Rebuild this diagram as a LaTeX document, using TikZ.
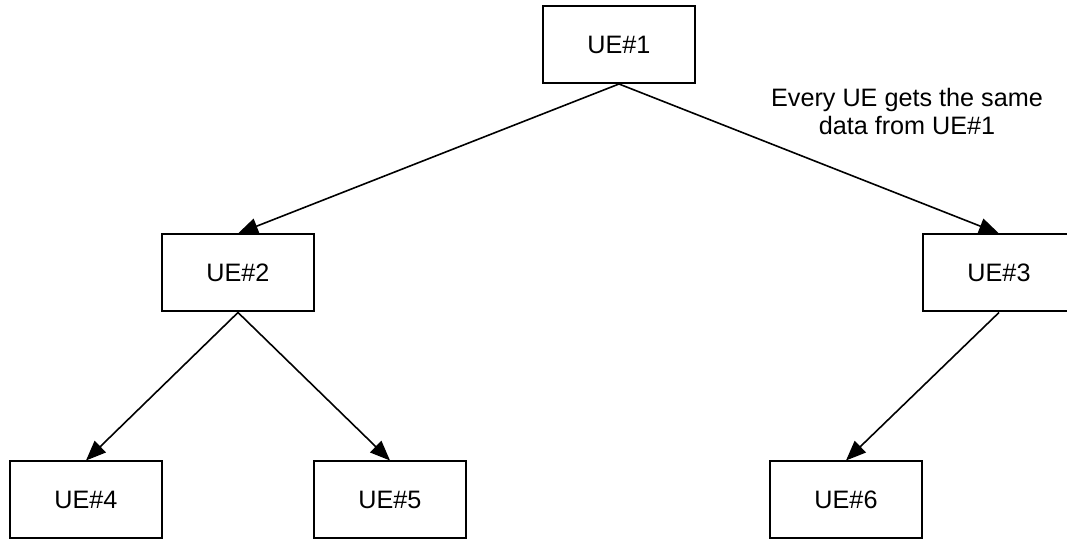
\documentclass[tikz,border=0pt]{standalone}
\usepackage{fontspec}
\setmainfont{Liberation Sans}
\usetikzlibrary{arrows.meta, positioning}

\begin{document}
\begin{tikzpicture}[x=0.5pt, y=-0.5pt,
    ue/.style={draw, line width=1pt, minimum width=76pt, minimum height=38.5pt, font=\fontsize{12.6}{15}\selectfont},
    link/.style={-{Triangle[length=10pt, width=8pt]}, line width=0.8pt}]
  \useasboundingbox (0,0) rectangle (1067,539);
  % top level
  \node[ue] (ue1) at (619, 44.5) {UE\#1};
  % second level
  \node[ue] (ue2) at (238, 273) {UE\#2};
  \node[ue] (ue3) at (999, 273) {UE\#3};
  % leaves
  \node[ue] (ue4) at (86, 500) {UE\#4};
  \node[ue] (ue5) at (390, 500) {UE\#5};
  \node[ue] (ue6) at (846, 500) {UE\#6};
  % note
  \node[align=center, font=\fontsize{12.6}{14}\selectfont] (note) at (907, 111) {Every UE gets the same\\data from UE\#1};
  % links
  \draw[link] (ue1.south) -- (ue2.north);
  \draw[link] (ue1.south) -- (ue3.north);
  \draw[link] (ue2.south) -- (ue4.north);
  \draw[link] (ue2.south) -- (ue5.north);
  \draw[link] (ue3.south) -- (ue6.north);
\end{tikzpicture}
\end{document}
